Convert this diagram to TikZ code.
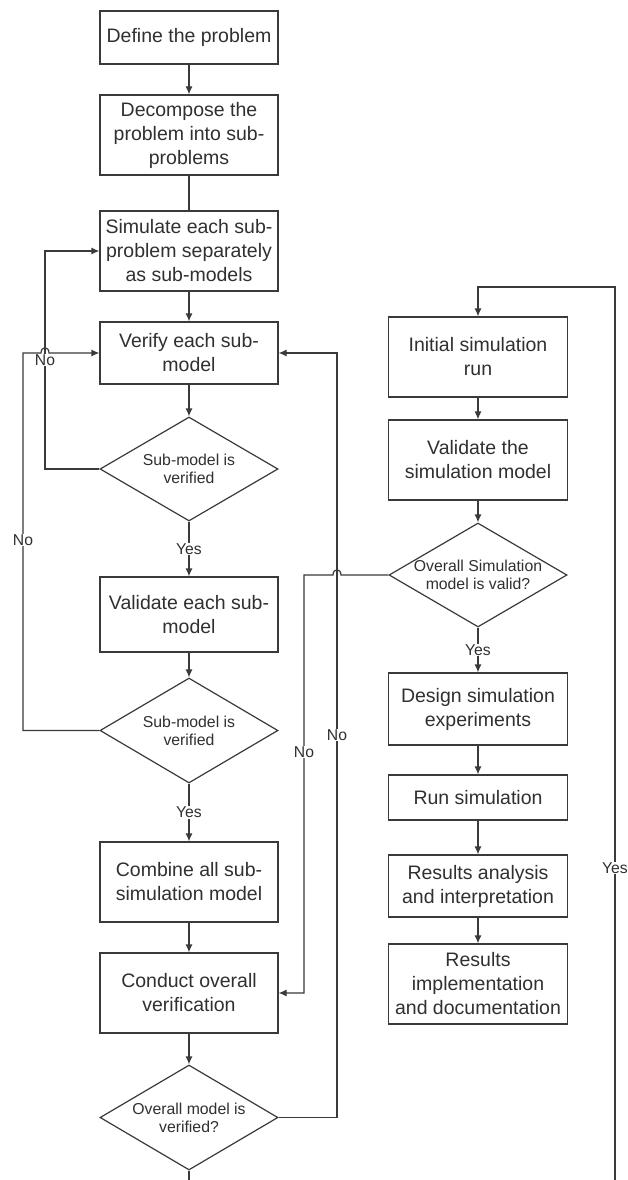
\documentclass[tikz,border=0pt]{standalone}
\usepackage{fontspec}
\setmainfont{Liberation Sans}
\usetikzlibrary{arrows.meta,shapes.geometric}
\definecolor{lncol}{HTML}{3A3A3A}
\definecolor{txcol}{HTML}{303030}
\begin{document}
\begin{tikzpicture}[x=1pt,y=-1pt,
  box/.style={draw=lncol,line width=1.2pt,minimum width=178pt,inner sep=0pt,align=center,text=txcol,font=\fontsize{19.5}{24}\selectfont},
  dia/.style={draw=lncol,line width=1.2pt,diamond,minimum width=178pt,minimum height=104pt,inner sep=0pt},
  dtext/.style={align=center,text=txcol,font=\fontsize{15.8}{18}\selectfont,inner sep=0pt},
  lab/.style={fill=white,text=txcol,font=\fontsize{15.7}{18}\selectfont,inner sep=1pt},
  conn/.style={draw=lncol,line width=1.2pt},
  arr/.style={conn,-{Latex[length=8pt,width=7pt]}}]
\fill[white] (0,0) rectangle (627,1180);
\useasboundingbox (0,0) rectangle (627,1180);
% left column
\node[box,minimum height=53pt] (define) at (189,37.5) {Define the problem};
\node[box,minimum height=80pt] (decomp) at (189,135) {Decompose the\\problem into sub-\\problems};
\node[box,minimum height=80pt] (sim) at (189,251) {Simulate each sub-\\problem separately\\as sub-models};
\node[box,minimum height=62pt] (verify) at (189,353) {Verify each sub-\\model};
\node[dia] (d1) at (189,469) {};
\node[dtext] (d1t) at (d1) {Sub-model is\\verified};
\node[box,minimum height=75pt] (valid) at (189,614.5) {Validate each sub-\\model};
\node[dia,minimum height=105pt] (d2) at (189,730.5) {};
\node[dtext] (d2t) at (d2) {Sub-model is\\verified};
\node[box,minimum height=80pt] (combine) at (189,882) {Combine all sub-\\simulation model};
\node[box,minimum height=80pt] (conduct) at (189,993) {Conduct overall\\verification};
\node[dia,minimum height=105pt] (d3) at (189,1117.5) {};
\node[dtext] (d3t) at (d3) {Overall model is\\verified?};
% right column
\node[box,minimum width=179pt,minimum height=80pt] (init) at (478,357) {Initial simulation\\run};
\node[box,minimum width=179pt,minimum height=80pt] (vsim) at (478,460) {Validate the\\simulation model};
\node[dia] (d4) at (478,575) {};
\node[dtext] (d4t) at (d4) {Overall Simulation\\model is valid?};
\node[box,minimum width=179pt,minimum height=72pt] (design) at (478,709) {Design simulation\\experiments};
\node[box,minimum width=179pt,minimum height=45pt] (run) at (478,797.5) {Run simulation};
\node[box,minimum width=179pt,minimum height=62pt] (ra) at (478,886) {Results analysis\\and interpretation};
\node[box,minimum width=179pt,minimum height=80pt] (ri) at (478,984) {Results\\implementation\\and documentation};
\coordinate (bl) at (189,1180);
\coordinate (br) at (615,1180);
% main flow left
\draw[arr] (define) -- (decomp);
\draw[conn] (decomp) -- (sim);
\draw[arr] (sim) -- (verify);
\draw[arr] (verify) -- (d1);
\draw[arr] (d1) -- node[lab] (y1) {Yes} (valid);
\draw[arr] (valid) -- (d2);
\draw[arr] (d2) -- node[lab] (y2) {Yes} (combine);
\draw[arr] (combine) -- (conduct);
\draw[arr] (conduct) -- (d3);
\draw[conn] (d3.south) -- (bl);
% main flow right
\draw[arr] (init) -- (vsim);
\draw[arr] (vsim) -- (d4);
\draw[arr] (d4) -- node[lab] (y3) {Yes} (design);
\draw[arr] (design) -- (run);
\draw[arr] (run) -- (ra);
\draw[arr] (ra) -- (ri);
% loops
\draw[arr] (d1.west) -- (45,469) -- (45,251) -- (sim.west);
\node[lab,inner sep=0.5pt] (n1) at (45,360) {No};
\draw[arr] (d2.west) -- (23,730.5) -- (23,353) -- (41,353) .. controls (41,346) and (49,346) .. (49,353) -- (verify.west);
\node[lab] (n2) at (23,540) {No};
\draw[arr] (d3.east) -- (337,1117.5) -- (337,353) -- (verify.east);
\node[lab] (n3) at (337,735) {No};
\draw[arr] (d4.west) -- (341,575) .. controls (341,568) and (333,568) .. (333,575) -- (304,575) -- (304,993) -- (conduct.east);
\node[lab] (n4) at (304,752) {No};
\draw[arr] (br) -- (615,287) -- (478,287) -- (init.north);
\node[lab] (y4) at (615,868) {Yes};
\end{tikzpicture}
\end{document}
